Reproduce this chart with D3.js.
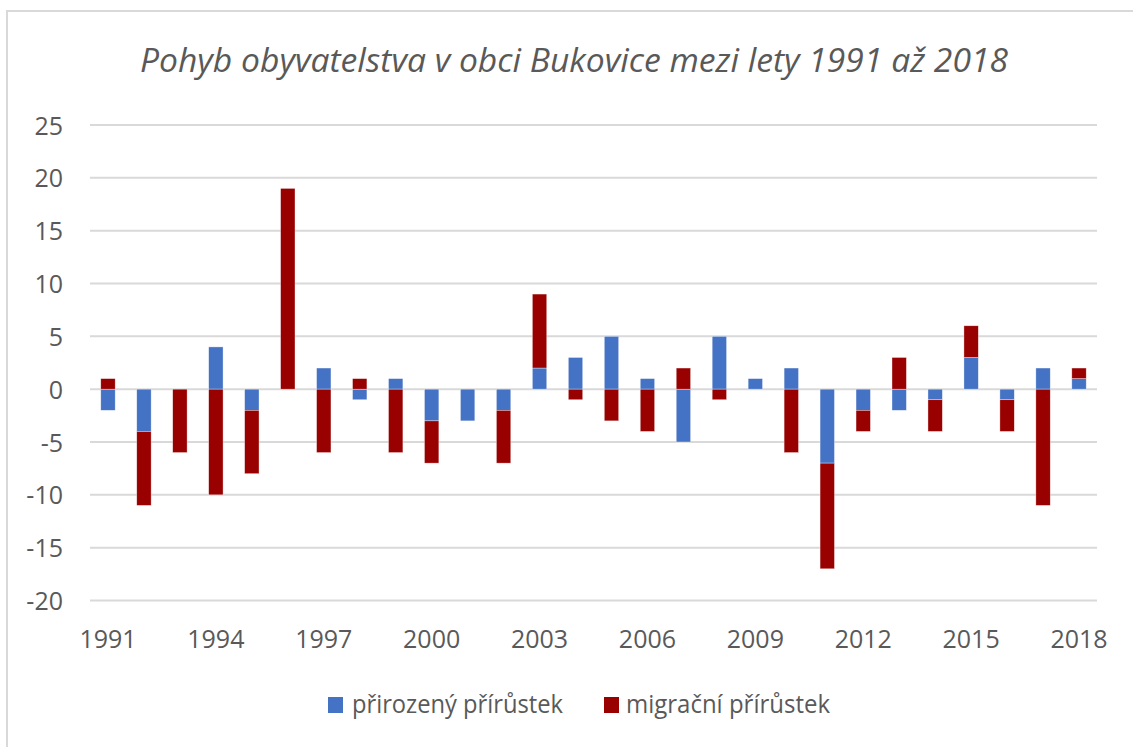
<!DOCTYPE html>
<html>
<head>
<meta charset="utf-8">
<script src="https://cdn.jsdelivr.net/npm/d3@7/dist/d3.min.js"></script>
<style>
  html, body { margin: 0; padding: 0; background: #fff; }
  svg { display: block; }
</style>
</head>
<body>
<svg id="chart" width="1133" height="747"></svg>
<script>
const title = "Pohyb obyvatelstva v obci Bukovice mezi lety 1991 až 2018";
const years = [1991,1992,1993,1994,1995,1996,1997,1998,1999,2000,2001,2002,2003,2004,
               2005,2006,2007,2008,2009,2010,2011,2012,2013,2014,2015,2016,2017,2018];
const natural   = [-2,-4,0,4,-2,0,2,-1,1,-3,-3,-2,2,3,5,1,-5,5,1,2,-7,-2,-2,-1,3,-1,2,1];
const migration = [1,-7,-6,-10,-6,19,-6,1,-6,-4,0,-5,7,-1,-3,-4,2,-1,0,-6,-10,-2,3,-3,3,-3,-11,1];
const seriesNames = ["přirozený přírůstek", "migrační přírůstek"];
const seriesKeys = ["natural", "migration"];
const colors = ["#4472C4", "#990000"];
const yTicks = [25,20,15,10,5,0,-5,-10,-15,-20];
const xTickLabels = [1991,1994,1997,2000,2003,2006,2009,2012,2015,2018];

(function () {
const font = "'Open Sans', 'Noto Sans', sans-serif";
const textColor = "#595959";
const gridColor = "#d9d9d9";

const svg = d3.select("#chart");

// chart border
svg.append("rect")
  .attr("x", 7).attr("y", 11).attr("width", 1140).attr("height", 750)
  .attr("fill", "#fff").attr("stroke", gridColor).attr("stroke-width", 2);

const pLeft = 90, pRight = 1097, pTop = 125, pBottom = 600.5;

const x = d3.scaleBand().domain(years).range([pLeft, pRight]).paddingInner(0.6).paddingOuter(0.3);
const y = d3.scaleLinear().domain([-20, 25]).range([pBottom, pTop]);

// gridlines
svg.append("g").selectAll("line").data(yTicks).join("line")
  .attr("x1", pLeft).attr("x2", pRight)
  .attr("y1", d => y(d)).attr("y2", d => y(d))
  .attr("stroke", gridColor).attr("stroke-width", 2);

// y labels
const yAxis = d3.axisLeft(y).tickValues(yTicks).tickFormat(d => String(d)).tickSize(0).tickPadding(0);
const yg = svg.append("g").attr("transform", `translate(${pLeft - 27},0)`).call(yAxis);
yg.select(".domain").remove();
yg.selectAll("text")
  .attr("font-family", font).attr("font-size", 25).attr("fill", textColor)
  .attr("dy", "0.36em");

// data table for stacking
const table = years.map((yr, i) => ({ year: yr, natural: natural[i], migration: migration[i] }));
const stack = d3.stack().keys(seriesKeys).offset(d3.stackOffsetDiverging);
const stacked = stack(table);

svg.append("g").selectAll("g").data(stacked).join("g")
  .attr("fill", (d, i) => colors[i])
  .selectAll("rect").data(d => d).join("rect")
  .attr("x", d => x(d.data.year))
  .attr("width", x.bandwidth())
  .attr("y", d => y(Math.max(d[0], d[1])))
  .attr("height", d => Math.abs(y(d[0]) - y(d[1])))
  .attr("stroke", "#ffffff").attr("stroke-width", 0.6).attr("stroke-opacity", 0.6);

// x labels
const xAxis = d3.axisBottom(x).tickValues(xTickLabels).tickFormat(d => String(d)).tickSize(0).tickPadding(0);
const xg = svg.append("g").attr("transform", `translate(0,${pBottom + 47})`).call(xAxis);
xg.select(".domain").remove();
xg.selectAll("text")
  .attr("font-family", font).attr("font-size", 25).attr("fill", textColor)
  .attr("dy", 0);

// title
svg.append("text")
  .attr("x", 574).attr("y", 72)
  .attr("text-anchor", "middle")
  .attr("font-family", font).attr("font-style", "italic").attr("font-size", 33)
  .attr("fill", textColor)
  .attr("textLength", 868).attr("lengthAdjust", "spacingAndGlyphs")
  .text(title);

// legend
const legend = [
  { name: seriesNames[0], color: colors[0], sx: 328, tx: 352, tw: 211 },
  { name: seriesNames[1], color: colors[1], sx: 604, tx: 626, tw: 204 }
];
const lg = svg.append("g");
legend.forEach(l => {
  lg.append("rect").attr("x", l.sx).attr("y", 697).attr("width", 15).attr("height", 16)
    .attr("fill", l.color);
  lg.append("text").attr("x", l.tx).attr("y", 713)
    .attr("font-family", font).attr("font-size", 25).attr("fill", textColor)
    .attr("textLength", l.tw).attr("lengthAdjust", "spacingAndGlyphs")
    .text(l.name);
});
})();
</script>
</body>
</html>
